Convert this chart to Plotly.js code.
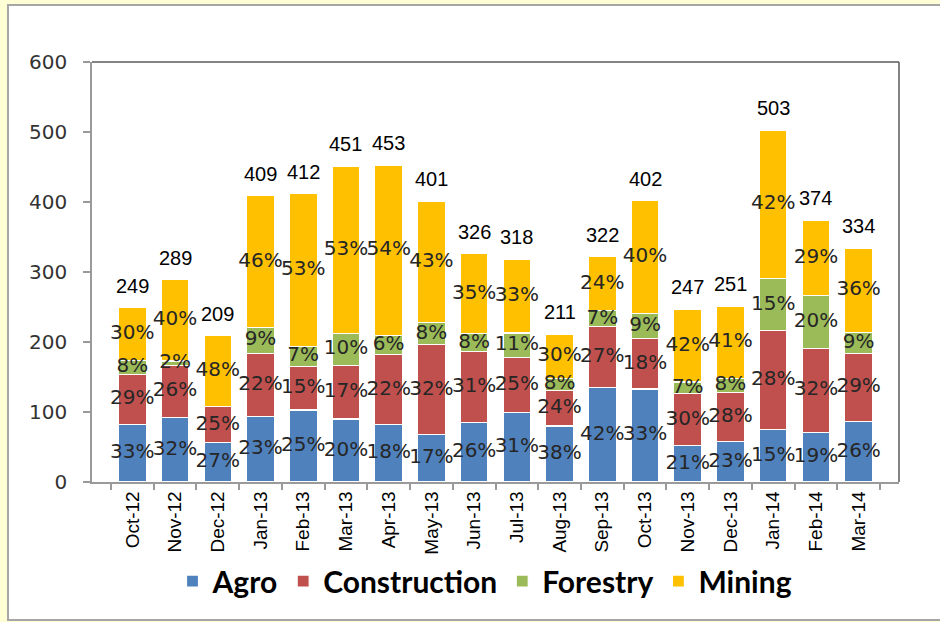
<!DOCTYPE html>
<html>
<head>
<meta charset="utf-8">
<script src="https://cdn.plot.ly/plotly-3.0.1.min.js"></script>
<style>html,body{margin:0;padding:0;background:#FFFFD6;}#chart{width:940px;height:622px;}</style>
</head>
<body>
<div id="chart"></div>
<script>
var months = ["Oct-12","Nov-12","Dec-12","Jan-13","Feb-13","Mar-13","Apr-13","May-13","Jun-13","Jul-13","Aug-13","Sep-13","Oct-13","Nov-13","Dec-13","Jan-14","Feb-14","Mar-14"];
var totals = [249,289,209,409,412,451,453,401,326,318,211,322,402,247,251,503,374,334];

var agro         = [82, 92, 56, 94,103, 90, 82, 68, 85, 99, 80,135,133, 52, 58, 75, 71, 87];
var construction = [72, 75, 52, 90, 62, 77,100,128,101, 79, 51, 87, 72, 74, 70,141,120, 97];
var forestry     = [20,  6,null,37, 29, 45, 27, 32, 26, 35, 17, 23, 36, 17, 20, 75, 75, 30];
var mining       = [75,116,101,188,218,239,244,173,114,105, 63, 77,161,104,103,212,108,120];

var agroPct         = ["33%","32%","27%","23%","25%","20%","18%","17%","26%","31%","38%","42%","33%","21%","23%","15%","19%","26%"];
var constructionPct = ["29%","26%","25%","22%","15%","17%","22%","32%","31%","25%","24%","27%","18%","30%","28%","28%","32%","29%"];
var forestryPct     = ["8%","2%","","9%","7%","10%","6%","8%","8%","11%","8%","7%","9%","7%","8%","15%","20%","9%"];
var miningPct       = ["30%","40%","48%","46%","53%","53%","54%","43%","35%","33%","30%","24%","40%","42%","41%","42%","29%","36%"];

var seriesNames = ["Agro","Construction","Forestry","Mining"];
var seriesColors = ["#4F81BD","#C0504D","#9BBB59","#FFC000"];
var seriesValues = [agro, construction, forestry, mining];
var seriesPct = [agroPct, constructionPct, forestryPct, miningPct];

var traces = [];
seriesNames.forEach(function(name, i){
  traces.push({
    type: "bar", name: name, x: months, y: seriesValues[i],
    marker: {color: seriesColors[i], line: {color: "#FFFFFF", width: 1.2}},
    hoverinfo: "x+y+name"
  });
});

// percentage labels at the middle of each stacked segment (drawn on top)
var base = months.map(function(){ return 0; });
seriesValues.forEach(function(vals, i){
  var mids = [];
  vals.forEach(function(v, k){
    var val = v || 0;
    mids.push(base[k] + val / 2);
    base[k] += val;
  });
  traces.push({
    type: "scatter", mode: "text", x: months, y: mids, text: seriesPct[i],
    textposition: "middle center",
    textfont: {family: "DejaVu Sans", size: 20, color: "#262626"},
    showlegend: false, hoverinfo: "skip", cliponaxis: false
  });
});

var annotations = months.map(function(m, k){
  return {x: m, y: totals[k], xref: "x", yref: "y", text: String(totals[k]),
    showarrow: false, yanchor: "bottom", yshift: 9,
    font: {family: "Liberation Sans", size: 20, color: "#000000"}};
});

var layout = {
  width: 940, height: 622,
  margin: {l: 92, r: 41, t: 62, b: 140, pad: 0},
  paper_bgcolor: "#FFFFD6",
  plot_bgcolor: "rgba(0,0,0,0)",
  barmode: "stack",
  bargap: 0.35,
  showlegend: true,
  legend: {orientation: "h", x: 0.487, xanchor: "center", y: -0.236, yanchor: "middle",
    font: {family: "Lato", size: 30, weight: 700, color: "#000000"}, bgcolor: "rgba(0,0,0,0)", traceorder: "normal"},
  xaxis: {type: "category", showline: true, linecolor: "#9A9A9A", linewidth: 1.5,
    ticks: "outside", tickson: "boundaries", ticklen: 6, tickcolor: "#9A9A9A", tickwidth: 1.5,
    tickangle: -90, tickfont: {family: "Liberation Sans", size: 19, color: "#000000"},
    showgrid: false, zeroline: false},
  yaxis: {range: [0, 600], dtick: 100, showline: true, linecolor: "#9A9A9A", linewidth: 1.5,
    ticks: "outside", ticklen: 7, tickcolor: "#9A9A9A", tickwidth: 1.5,
    tickfont: {family: "DejaVu Sans", size: 20, color: "#333333"}, ticklabelstandoff: 12,
    showgrid: false, zeroline: false},
  shapes: [
    {type: "rect", xref: "paper", yref: "paper", x0: -0.1041, x1: 1.06, y0: -0.3286, y1: 1.1357,
      fillcolor: "#FFFFFF", line: {color: "#A6A6A6", width: 2}, layer: "below"},
    {type: "line", xref: "paper", yref: "paper", x0: 0, x1: 1, y0: 1, y1: 1, line: {color: "#5A5A5A", width: 1.5}},
    {type: "line", xref: "paper", yref: "paper", x0: 1, x1: 1, y0: 0, y1: 1, line: {color: "#5A5A5A", width: 1.5}}
  ],
  annotations: annotations
};

Plotly.newPlot("chart", traces, layout, {displayModeBar: false, responsive: false});
</script>
</body>
</html>
